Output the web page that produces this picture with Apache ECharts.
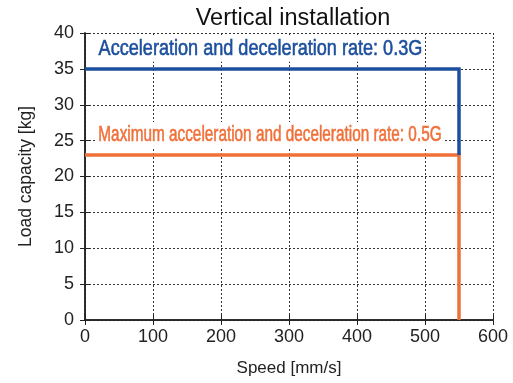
<!DOCTYPE html>
<html>
<head>
<meta charset="utf-8">
<script src="https://cdn.jsdelivr.net/npm/echarts@6/dist/echarts.min.js"></script>
<style>
  html, body { margin: 0; padding: 0; background: #fff; }
  #chart { width: 513px; height: 383px; }
</style>
</head>
<body>
<div id="chart"></div>
<script>
// Load capacity limits, vertical installation
const xTicks = [0, 100, 200, 300, 400, 500, 600];
const yTicks = [0, 5, 10, 15, 20, 25, 30, 35, 40];
const rate03 = [[0, 35], [550, 35], [550, 23]];
const rate05 = [[0, 23], [550, 23], [550, 0]];
const rate03Label = 'Acceleration and deceleration rate: 0.3G';
const rate05Label = 'Maximum acceleration and deceleration rate: 0.5G';
const rate03LabelAt = [17.6, 37.8];
const rate05LabelAt = [17.6, 25.8];

const BLUE = '#1c4f9d';
const ORANGE = '#f0703a';
const FONT = 'Liberation Sans, Arial, sans-serif';

const grid = { left: 85, right: 20, top: 33, bottom: 63 };
const tickFont = { color: '#222', fontSize: 18, fontFamily: FONT };
const dotted = { show: true, lineStyle: { color: '#333', width: 1, type: [2, 2] } };
const frameLine = { show: true, lineStyle: { color: '#222', width: 1.5 } };
const innerTick = { show: true, inside: true, length: 5, lineStyle: { color: '#222' } };

const chart = echarts.init(document.getElementById('chart'), null, { renderer: 'canvas' });
chart.setOption({
  animation: false,
  backgroundColor: '#fff',
  title: {
    text: 'Vertical installation',
    left: 288, top: 2, textAlign: 'center',
    textStyle: { fontFamily: FONT, fontSize: 23.5, fontWeight: 'normal', color: '#111' }
  },
  grid: grid,
  xAxis: [{
    type: 'value', min: xTicks[0], max: xTicks[xTicks.length - 1], interval: 100,
    name: 'Speed [mm/s]', nameLocation: 'middle', nameGap: 40,
    nameTextStyle: { fontFamily: FONT, fontSize: 17, color: '#222' },
    axisLine: frameLine, axisTick: innerTick,
    axisLabel: Object.assign({ margin: 8 }, tickFont),
    splitLine: dotted
  }, {
    type: 'value', position: 'top', min: xTicks[0], max: xTicks[xTicks.length - 1], interval: 100,
    axisLine: frameLine, axisTick: innerTick,
    axisLabel: { show: false }, splitLine: { show: false }
  }],
  yAxis: [{
    type: 'value', min: yTicks[0], max: yTicks[yTicks.length - 1], interval: 5,
    name: 'Load capacity [kg]', nameLocation: 'middle', nameGap: 50, nameRotate: 90,
    nameTextStyle: { fontFamily: FONT, fontSize: 17.5, color: '#222' },
    axisLine: frameLine, axisTick: innerTick,
    axisLabel: Object.assign({ margin: 11 }, tickFont),
    splitLine: dotted
  }, {
    type: 'value', position: 'right', min: yTicks[0], max: yTicks[yTicks.length - 1], interval: 5,
    axisLine: frameLine, axisTick: innerTick,
    axisLabel: { show: false }, splitLine: { show: false }
  }],
  series: [{
    type: 'line', data: rate05, symbol: 'none', z: 3,
    lineStyle: { color: ORANGE, width: 3.5, join: 'miter', cap: 'butt' }
  }, {
    type: 'line', data: rate03, symbol: 'none', z: 4,
    lineStyle: { color: BLUE, width: 3.5, join: 'miter', cap: 'butt' }
  }]
});

// Condensed annotation texts, anchored in data coordinates
const LABEL_SIZE = 22;
const ctx = document.createElement('canvas').getContext('2d');
function condensedText(text, at, color, width) {
  ctx.font = LABEL_SIZE + 'px ' + FONT;
  const natural = ctx.measureText(text).width + 4;
  const p = chart.convertToPixel({ xAxisIndex: 0, yAxisIndex: 0 }, at);
  return {
    type: 'text', x: p[0], y: p[1], scaleX: width / natural, z: 100,
    style: {
      text: text, fill: color, font: LABEL_SIZE + 'px ' + FONT,
      verticalAlign: 'middle', align: 'left',
      stroke: color, lineWidth: 0.6,
      backgroundColor: '#fff', padding: [2, 2]
    }
  };
}
chart.setOption({
  graphic: [
    condensedText(rate03Label, rate03LabelAt, BLUE, 327),
    condensedText(rate05Label, rate05LabelAt, ORANGE, 346)
  ]
});
</script>
</body>
</html>
